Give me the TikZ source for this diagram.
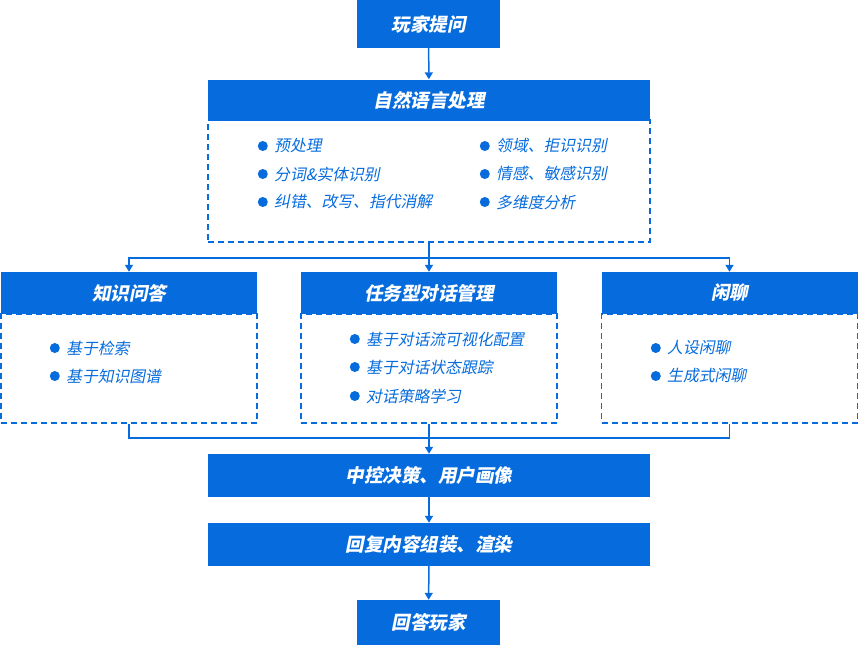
\documentclass[tikz,border=0pt]{standalone}
\usepackage{fontspec}
\newfontfamily\cjk{Noto Sans CJK SC}[FakeSlant=0.2]
\usepackage{xcolor}
\usepackage{tikz}
\usetikzlibrary{
  arrows.meta,
  calc
}
\definecolor{flowblue}{RGB}{6,108,222}
\tikzset{
  head/.style={
    fill=flowblue,
    text=white,
    inner sep=0pt,
    font=\cjk\bfseries\fontsize{18.5}{20}\selectfont},
  panel/.style={
    draw=flowblue,
    fill=white,
    line width=1.8pt,
    dash pattern=on 6pt off 4pt},
  item/.style={
    anchor=west,
    inner sep=0pt,
    text=flowblue,
    font=\cjk\fontsize{15.8}{17}\selectfont,
    label={[dot,label distance=6pt]left:{}}},
  dot/.style={
    circle,
    fill=flowblue,
    inner sep=0pt,
    minimum size=10pt},
  flow/.style={
    draw=flowblue,
    line width=1.5pt,
    -{Triangle[length=7pt,width=8pt]}},
  link/.style={
    draw=flowblue,
    line width=1.5pt}
  }

\begin{document}
\begin{tikzpicture}[x=1pt,y=-1pt]
    \useasboundingbox (0,0) rectangle (859,645);
    % dashed panels
    \node[panel, minimum width=442pt, minimum height=122pt] (nlpbox) at (429,181) {};
    \node[panel, minimum width=256pt, minimum height=109pt] (kqbox) at (129,368.5) {};
    \node[panel, minimum width=256pt, minimum height=109pt] (taskbox) at (429,368.5) {};
    \node[panel, minimum width=256pt, minimum height=109pt] (chatbox) at (729.5,368.5) {};
    % blue boxes
    \node[head, minimum width=143pt, minimum height=48pt] (ask) at (428.5,24) {玩家提问};
    \node[head, minimum width=442pt, minimum height=41pt] (nlp) at (429,100) {自然语言处理};
    \node[head, minimum width=256pt, minimum height=42pt] (kq) at (129,293) {知识问答};
    \node[head, minimum width=256pt, minimum height=42pt] (task) at (429,293) {任务型对话管理};
    \node[head, minimum width=256pt, minimum height=42pt] (chat) at (729.5,293) {闲聊};
    \node[head, minimum width=442pt, minimum height=43pt] (ctrl) at (429,475.5) {中控决策、用户画像};
    \node[head, minimum width=442pt, minimum height=43pt] (reply) at (429,544.5) {回复内容组装、渲染};
    \node[head, minimum width=143pt, minimum height=45pt] (answer) at (428.5,622.5) {回答玩家};
    % items
    \node[item] (pre) at (274,146) {预处理};
    \node[item] (seg) at (274,174) {分词\&实体识别};
    \node[item] (fix) at (274,202) {纠错、改写、指代消解};
    \node[item] (dom) at (496,146) {领域、拒识识别};
    \node[item] (emo) at (496,174) {情感、敏感识别};
    \node[item] (dim) at (496,202) {多维度分析};
    \node[item] (ret) at (66,348) {基于检索};
    \node[item] (kg) at (66,376) {基于知识图谱};
    \node[item] (vis) at (366,339) {基于对话流可视化配置};
    \node[item] (dst) at (366,367) {基于对话状态跟踪};
    \node[item] (pol) at (366,396) {对话策略学习};
    \node[item] (per) at (667,348) {人设闲聊};
    \node[item] (gen) at (667,376) {生成式闲聊};
    % connectors
    \coordinate (split) at (429,258);
    \coordinate (merge) at (429,438);
    \draw [flow] (ask) -- (nlp);
    \draw [flow] (nlpbox.south) -- (task);
    \draw [flow] (split) -| (kq);
    \draw [flow] (split) -| (chat);
    \draw [link] (kqbox.south) |- (merge) -| (chatbox.south);
    \draw [flow] (taskbox.south) -- (ctrl);
    \draw [flow] (ctrl) -- (reply);
    \draw [flow] (reply) -- (answer);
  \end{tikzpicture}
\end{document}
